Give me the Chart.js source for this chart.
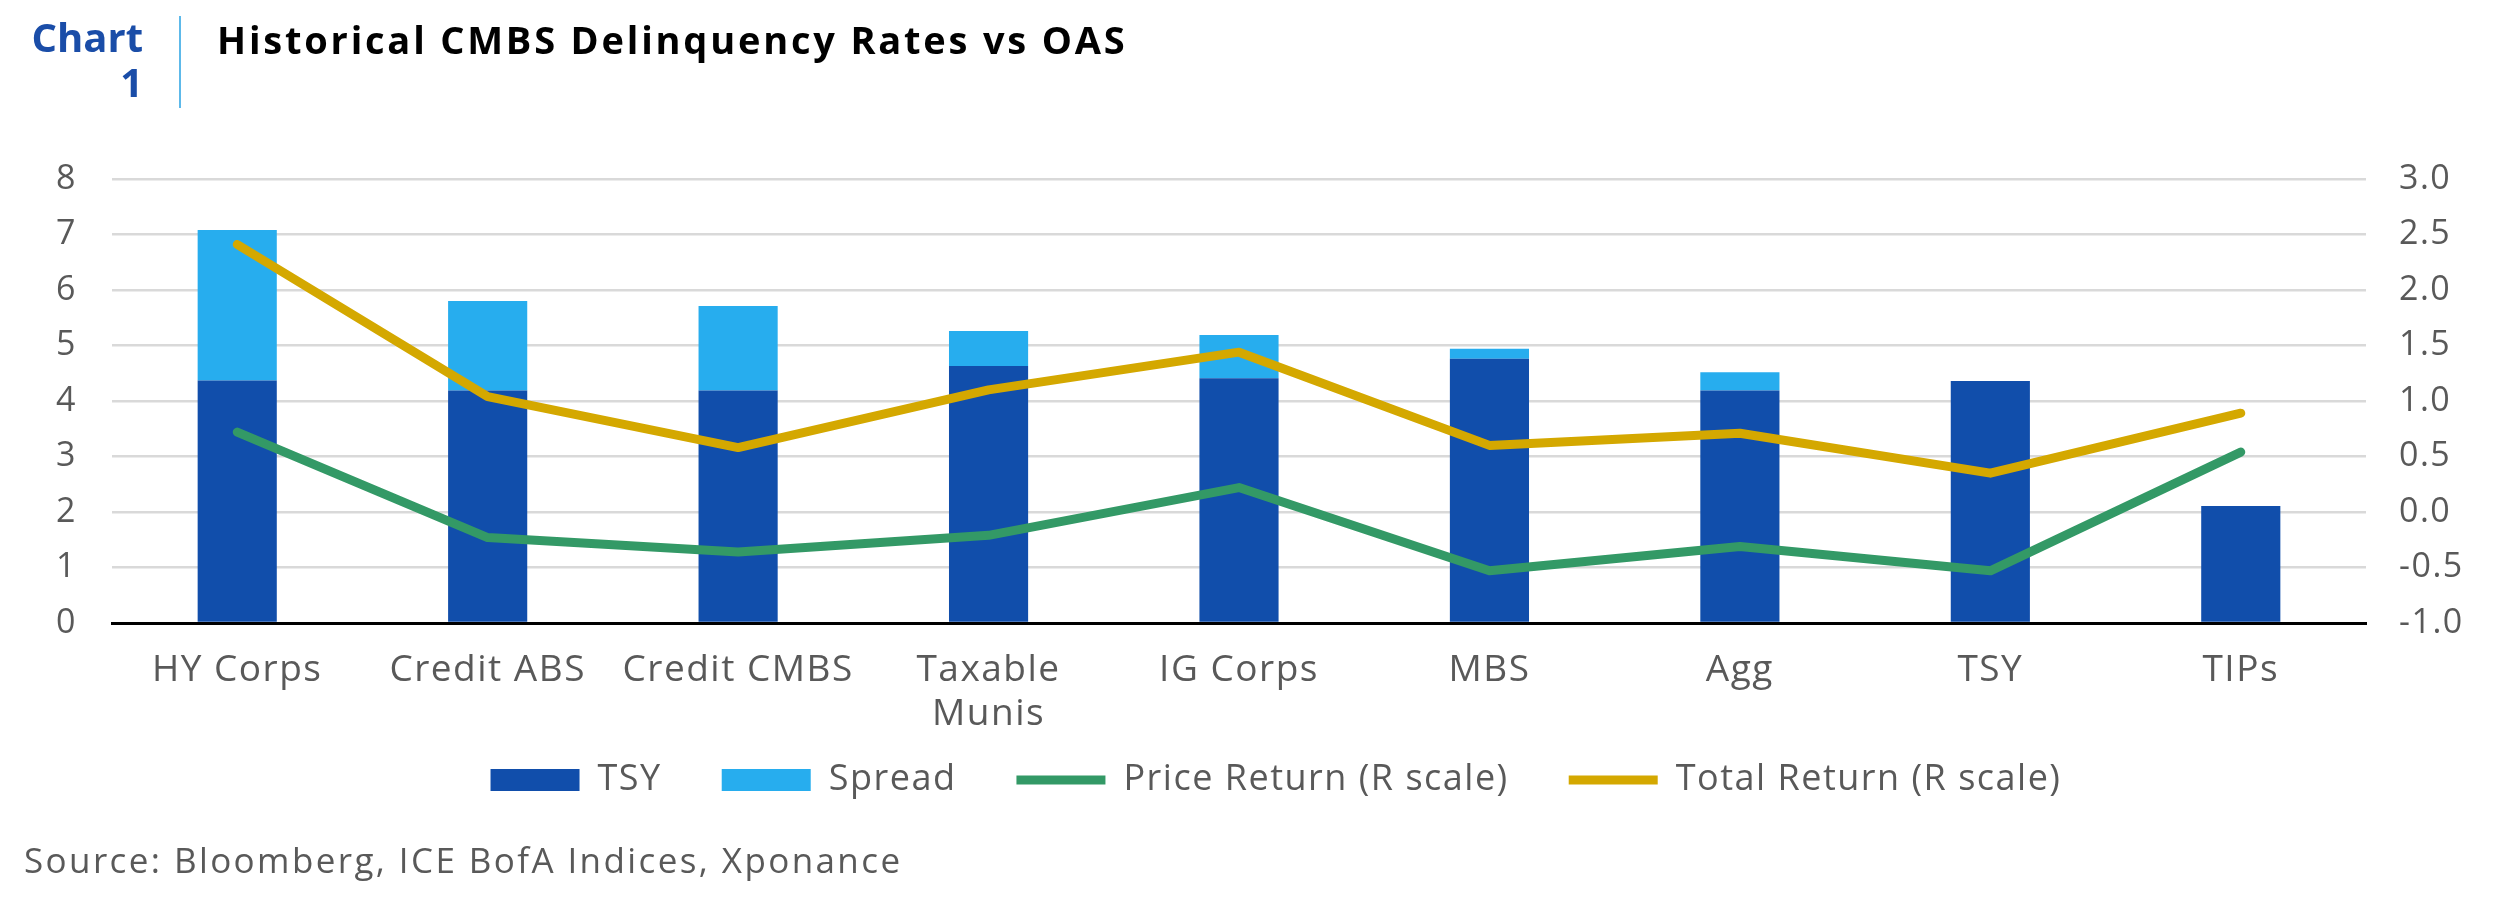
<!DOCTYPE html>
<html>
<head>
<meta charset="utf-8">
<script src="https://cdn.jsdelivr.net/npm/chart.js@4"></script>
<style>
  html, body { margin: 0; padding: 0; background: #fff; }
  #wrap { position: relative; width: 2498px; height: 919px; font-family: "Open Sans", sans-serif; }
  #myChart { position: absolute; left: 0; top: 0; }
  .tag { position: absolute; right: calc(2498px - 143px); text-align: right; color: #1a4da8; font-weight: 700; font-size: 40px; line-height: 45px; top: 14px; }
  .bar { position: absolute; left: 179px; top: 16px; width: 2px; height: 92px; background: #5db9ea; }
  .title { position: absolute; left: 217px; top: 14px; font-size: 38px; font-weight: 700; color: #000; line-height: 50px; letter-spacing: 2.8px; }
  .source { position: absolute; left: 24px; top: 836px; font-size: 35px; color: #595959; line-height: 48px; letter-spacing: 2.4px; }
</style>
</head>
<body>
<div id="wrap">
  <canvas id="myChart" width="2498" height="919"></canvas>
  <div class="tag">Chart<br>1</div>
  <div class="bar"></div>
  <div class="title">Historical CMBS Delinquency Rates vs OAS</div>
  <div class="source">Source: Bloomberg, ICE BofA Indices, Xponance</div>
</div>
<script>
// values
const categories = ['HY Corps', 'Credit ABS', 'Credit CMBS', ['Taxable', 'Munis'], 'IG Corps', 'MBS', 'Agg', 'TSY', 'TIPs'];
const tsyValues = [4.37, 4.19, 4.19, 4.63, 4.41, 4.76, 4.19, 4.36, 2.11];
const spreadValues = [2.71, 1.61, 1.52, 0.63, 0.78, 0.18, 0.33, 0, 0];
const priceReturn = [0.72, -0.23, -0.36, -0.21, 0.22, -0.53, -0.31, -0.53, 0.54];
const totalReturn = [2.41, 1.04, 0.58, 1.10, 1.44, 0.60, 0.71, 0.35, 0.89];

const gridColor = '#d9d9d9';
const textColor = '#595959';
const fontFamily = '"Open Sans", sans-serif';

// wider text like the original font, and pull the legend up closer to the axis
const tweaks = {
    id: 'tweaks',
    beforeLayout(chart) { chart.ctx.letterSpacing = '1.5px'; },
    beforeDraw(chart) { chart.ctx.letterSpacing = '1.5px'; },
    afterLayout(chart) {
        chart.legend.top -= 36;
        chart.legend.bottom -= 36;
        chart.legend.left += 27;
        chart.legend.right += 27;
    }
};

const data = {
    labels: categories,
    datasets: [
        {
            type: 'bar',
            label: 'TSY',
            data: tsyValues,
            backgroundColor: '#114eab',
            yAxisID: 'y',
            stack: 'oas',
            order: 2,
            pointStyle: 'rect',
            barPercentage: 0.316,
            categoryPercentage: 1
        },
        {
            type: 'bar',
            label: 'Spread',
            data: spreadValues,
            backgroundColor: '#27adee',
            yAxisID: 'y',
            stack: 'oas',
            order: 2,
            pointStyle: 'rect',
            barPercentage: 0.316,
            categoryPercentage: 1
        },
        {
            type: 'line',
            label: 'Price Return (R scale)',
            data: priceReturn,
            borderColor: '#339966',
            backgroundColor: '#339966',
            borderWidth: 9,
            borderCapStyle: 'round',
            borderJoinStyle: 'round',
            pointRadius: 0,
            pointStyle: 'line',
            yAxisID: 'y1',
            order: 1
        },
        {
            type: 'line',
            label: 'Total Return (R scale)',
            data: totalReturn,
            borderColor: '#d4a800',
            backgroundColor: '#d4a800',
            borderWidth: 9,
            borderCapStyle: 'round',
            borderJoinStyle: 'round',
            pointRadius: 0,
            pointStyle: 'line',
            yAxisID: 'y1',
            order: 0
        }
    ]
};

const config = {
    type: 'bar',
    data: data,
    options: {
        responsive: false,
        animation: false,
        events: [],
        layout: {
            padding: { left: 0, right: 0, top: 179, bottom: 75 }
        },
        plugins: {
            tooltip: { enabled: false },
            title: { display: false },
            legend: {
                position: 'bottom',
                labels: {
                    usePointStyle: true,
                    pointStyleWidth: 89,
                    boxHeight: 22,
                    padding: 60,
                    color: textColor,
                    font: { family: fontFamily, size: 36 },
                    sort: (a, b) => a.datasetIndex - b.datasetIndex
                }
            }
        },
        scales: {
            x: {
                stacked: true,
                grid: { display: false, drawTicks: false },
                border: { display: true, color: '#000', width: 3 },
                ticks: {
                    color: textColor,
                    font: { family: fontFamily, size: 37, lineHeight: 1.2 },
                    padding: 25,
                    autoSkip: false,
                    maxRotation: 0
                },
                afterFit: (scale) => { scale.height = 115; }
            },
            y: {
                position: 'left',
                stacked: true,
                min: 0,
                max: 8,
                ticks: {
                    stepSize: 1,
                    color: textColor,
                    font: { family: fontFamily, size: 34 },
                    padding: 35
                },
                grid: { color: gridColor, lineWidth: 2.5, drawTicks: false },
                border: { display: false },
                afterFit: (scale) => { scale.width = 112; }
            },
            y1: {
                position: 'right',
                min: -1,
                max: 3,
                ticks: {
                    stepSize: 0.5,
                    color: textColor,
                    font: { family: fontFamily, size: 34 },
                    padding: 33,
                    callback: (v) => v.toFixed(1)
                },
                grid: { display: false, drawTicks: false },
                border: { display: false },
                afterFit: (scale) => { scale.width = 132; }
            }
        }
    },
    plugins: [tweaks]
};

const chart = new Chart(document.getElementById('myChart'), config);
</script>
</body>
</html>
